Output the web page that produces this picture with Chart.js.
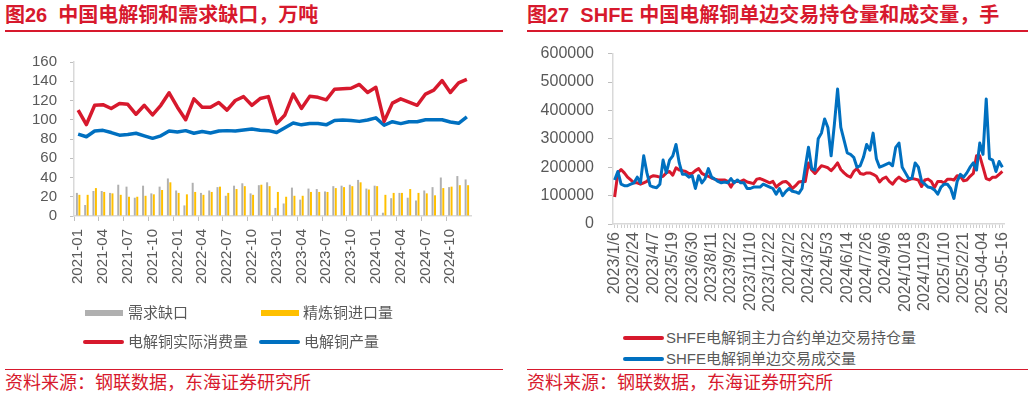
<!DOCTYPE html>
<html><head><meta charset="utf-8">
<script src="https://cdn.jsdelivr.net/npm/chart.js@4/dist/chart.umd.min.js"></script>
<style>
body{margin:0;background:#fff;}
#wrap{position:relative;width:1032px;height:398px;overflow:hidden;background:#fff;font-family:"Liberation Sans","Noto Sans CJK SC",sans-serif;}
.title{position:absolute;top:2px;font-weight:bold;color:#D7192D;white-space:pre;line-height:26px;}
.rule{position:absolute;background:#D7192D;}
.src{position:absolute;top:372px;font-size:18px;line-height:22px;color:#D7192D;white-space:pre;}
.leg{position:absolute;font-size:15px;line-height:20px;color:#595959;white-space:pre;}
.sw{position:absolute;}
canvas{position:absolute;}
</style></head>
<body>
<div id="wrap">
  <div class="title" style="left:5px;font-size:20px;">图26  中国电解铜和需求缺口，万吨</div>
  <div class="title" style="left:527px;font-size:20px;">图27  SHFE 中国电解铜单边交易持仓量和成交量，手</div>
  <div class="rule" style="left:5px;top:30px;width:498px;height:2px;"></div>
  <div class="rule" style="left:527px;top:30px;width:501px;height:2px;"></div>

  <canvas id="c1" width="500" height="270" style="left:0;top:40px;"></canvas>
  <canvas id="c2" width="512" height="290" style="left:520px;top:30px;"></canvas>

  <div class="sw" style="left:85px;top:310px;width:38px;height:6px;background:#B0B0B0;"></div>
  <div class="leg" style="left:128px;top:303px;">需求缺口</div>
  <div class="sw" style="left:261px;top:310px;width:38px;height:6px;background:#FFC000;"></div>
  <div class="leg" style="left:303px;top:303px;">精炼铜进口量</div>
  <div class="sw" style="left:83px;top:340px;width:41px;height:4px;border-radius:2px;background:#D7192D;"></div>
  <div class="leg" style="left:128px;top:332px;">电解铜实际消费量</div>
  <div class="sw" style="left:259px;top:340px;width:41px;height:4px;border-radius:2px;background:#0070C0;"></div>
  <div class="leg" style="left:304px;top:332px;">电解铜产量</div>

  <div class="sw" style="left:623px;top:336px;width:41px;height:4px;border-radius:2px;background:#D7192D;"></div>
  <div class="leg" style="left:666px;top:328px;">SHFE电解铜主力合约单边交易持仓量</div>
  <div class="sw" style="left:623px;top:357px;width:41px;height:4px;border-radius:2px;background:#0070C0;"></div>
  <div class="leg" style="left:666px;top:349px;">SHFE电解铜单边交易成交量</div>

  <div class="rule" style="left:5px;top:369px;width:498px;height:1px;"></div>
  <div class="rule" style="left:527px;top:369px;width:501px;height:1px;"></div>
  <div class="src" style="left:5px;">资料来源：钢联数据，东海证券研究所</div>
  <div class="src" style="left:527px;">资料来源：钢联数据，东海证券研究所</div>
</div>
<script>
// ---------- Figure 26 data (万吨) ----------
const months = ['2021-01','2021-02','2021-03','2021-04','2021-05','2021-06','2021-07','2021-08','2021-09','2021-10','2021-11','2021-12',
  '2022-01','2022-02','2022-03','2022-04','2022-05','2022-06','2022-07','2022-08','2022-09','2022-10','2022-11','2022-12',
  '2023-01','2023-02','2023-03','2023-04','2023-05','2023-06','2023-07','2023-08','2023-09','2023-10','2023-11','2023-12',
  '2024-01','2024-02','2024-03','2024-04','2024-05','2024-06','2024-07','2024-08','2024-09','2024-10','2024-11','2024-12'];
const consumption = [110,95,115,115.7,111.7,117,116,105.7,115,105,115,128,113,100,121.7,113,113,118,110,120,124,115,122,124,
  96,105,126.7,111.7,124.3,123.3,120.7,131.7,132.3,132.7,136.7,128.3,133.7,98.3,117.3,121.7,118.3,115,126.7,130.7,140.7,128.3,138.3,142];
const production = [85,82.3,88.3,89,86.7,84,84.7,86,83.3,80.7,83.3,88.3,87.3,88.7,86,87.7,86.3,88.3,88.7,88.3,89.3,90.3,89,88.7,
  86.7,91.7,96.7,94.7,96,96,94.7,99.3,99.7,99.3,98.3,99.7,102,94.3,98,96,98,98,100,100,100,97.7,96.3,103];
const demandGap = [24,11.4,26,26,24,32.5,30.5,19,31.5,23.5,30.5,39,26.5,11,34.5,24,26.5,30,21,31.5,34,23.5,32,35,
  8.4,13,29.5,17,28.5,28,25.5,31,31.5,32.5,37.5,28.5,31.5,3.4,18.5,24,19,16,26.5,30,40,30,41.5,38];
const imports = [22,22,29,25,23.5,22,20,20,21,22.5,27,35,24,22.5,25,22,25,30.5,24,28,31,22,32.5,31,
  25,20,21,21,25,25,25,29,30,31,35,27.5,31,22,24,24,28,24,23.5,21.5,29,30.5,32,32];
const leftTicks = [0,20,40,60,80,100,120,140,160];

// ---------- Figure 27 data (手) ----------
const weekTickLabels = ['2023/1/6','2023/2/24','2023/4/7','2023/5/19','2023/6/30','2023/8/11','2023/9/22','2023/11/10','2023/12/22',
  '2024/2/2','2024/3/22','2024/5/3','2024/6/14','2024/7/26','2024/9/6','2024/10/18','2024/11/29','2025/1/10','2025/2/21','2025-04-04','2025-05-16'];
const openInterest = [95000,180000,192000,180000,165000,155000,145000,145000,140000,145000,
  150000,165000,170000,168000,165000,168000,180000,185000,172000,198000,
  190000,188000,185000,178000,178000,188000,195000,178000,172000,168000,
  162000,158000,155000,155000,155000,150000,130000,150000,150000,150000,
  155000,148000,145000,142000,158000,160000,155000,150000,145000,150000,
  130000,140000,148000,150000,140000,125000,135000,148000,150000,150000,
  215000,190000,178000,192000,205000,202000,198000,188000,200000,215000,
  192000,180000,170000,165000,185000,195000,178000,175000,180000,180000,
  175000,168000,148000,160000,165000,150000,140000,155000,165000,155000,
  150000,155000,160000,158000,155000,132000,155000,158000,150000,128000,
  150000,150000,145000,158000,158000,155000,170000,168000,152000,155000,
  168000,178000,240000,240000,200000,160000,155000,165000,165000,175000,
  185000];
const volume = [155000,185000,140000,135000,135000,140000,145000,165000,145000,240000,
  180000,135000,130000,128000,140000,225000,180000,225000,240000,280000,
  215000,175000,175000,165000,170000,125000,170000,145000,160000,195000,
  165000,158000,150000,145000,148000,145000,160000,145000,155000,145000,
  145000,125000,125000,130000,130000,130000,140000,135000,130000,125000,
  105000,125000,100000,115000,125000,115000,113000,108000,125000,200000,
  270000,195000,190000,300000,320000,370000,340000,240000,350000,475000,
  340000,295000,250000,245000,235000,200000,205000,235000,280000,260000,
  320000,230000,200000,205000,210000,215000,205000,270000,285000,200000,
  180000,160000,160000,215000,200000,150000,140000,130000,128000,120000,
  105000,130000,140000,140000,125000,90000,150000,175000,165000,180000,
  200000,215000,190000,285000,245000,440000,230000,225000,185000,220000,
  200000];
const weeks = volume.map((_, i) => (i % 6 === 0 ? weekTickLabels[i / 6] : ''));

const RED = '#D7192D', BLUE = '#0070C0', AX = '#D9D9D9', TXT = '#595959';
const FONT = '"Liberation Sans", "Noto Sans CJK SC", sans-serif';

new Chart(document.getElementById('c1'), {
  data: {
    labels: months,
    datasets: [
      {type:'line', data: consumption, borderColor: RED, borderWidth: 3.5, pointRadius: 0, borderJoinStyle:'round', order: 0},
      {type:'line', data: production, borderColor: BLUE, borderWidth: 3.5, pointRadius: 0, borderJoinStyle:'round', order: 1},
      {type:'bar', data: demandGap, backgroundColor: '#B0B0B0', barPercentage: 0.8, categoryPercentage: 0.6, order: 2},
      {type:'bar', data: imports, backgroundColor: '#FFC000', barPercentage: 0.8, categoryPercentage: 0.6, order: 3}
    ]
  },
  options: {
    responsive: false, animation: false, devicePixelRatio: 1,
    layout: {padding: {top: 17, right: 29, left: 0, bottom: 0}},
    plugins: {legend: {display: false}, tooltip: {enabled: false}},
    scales: {
      x: {
        type: 'category', offset: true,
        grid: {offset: true, drawOnChartArea: false, tickLength: 5, lineWidth: 1,
               color: c => (c.index % 3 === 0 ? '#BFBFBF' : 'rgba(0,0,0,0)')},
        border: {color: AX, width: 1.5},
        ticks: {autoSkip: false, maxRotation: 90, minRotation: 90, padding: 8, color: TXT,
                font: {family: FONT, size: 15},
                callback: (v, i) => (i % 3 === 0 ? months[i] : '')},
        afterFit: s => { s.height = 94; }
      },
      y: {
        min: 0, max: 160,
        afterBuildTicks: s => { s.ticks = leftTicks.map(v => ({value: v})); },
        grid: {drawOnChartArea: false, tickLength: 4, color: '#BFBFBF'},
        border: {color: AX, width: 1.5},
        ticks: {autoSkip: false, padding: 13, color: TXT, font: {family: FONT, size: 15},
                callback: v => String(v)},
        afterFit: s => { s.width = 74; }
      }
    }
  }
});

new Chart(document.getElementById('c2'), {
  type: 'line',
  data: {
    labels: weeks,
    datasets: [
      {data: openInterest, borderColor: RED, borderWidth: 3, pointRadius: 0, borderJoinStyle:'round', order: 2},
      {data: volume, borderColor: BLUE, borderWidth: 3, pointRadius: 0, borderJoinStyle:'round', order: 1}
    ]
  },
  options: {
    responsive: false, animation: false, devicePixelRatio: 1,
    layout: {padding: {top: 13, right: 28, left: 0, bottom: 0}},
    plugins: {legend: {display: false}, tooltip: {enabled: false}},
    scales: {
      x: {
        type: 'category', offset: true,
        grid: {drawOnChartArea: false, tickLength: 4, color: '#CFCFCF', lineWidth: 1},
        border: {color: AX, width: 1.5},
        ticks: {autoSkip: false, maxRotation: 90, minRotation: 90, padding: 4, color: TXT,
                font: {family: FONT, size: 16},
                callback: (v, i) => weeks[i]},
        afterFit: s => { s.height = 96; }
      },
      y: {
        min: 0, max: 600000,
        ticks: {stepSize: 100000, autoSkip: false, padding: 14, color: TXT, font: {family: FONT, size: 16},
                callback: v => String(v)},
        grid: {drawOnChartArea: false, tickLength: 5, color: '#BFBFBF'},
        border: {color: AX, width: 1.5},
        afterFit: s => { s.width = 93; }
      }
    }
  }
});
</script>
</body></html>
